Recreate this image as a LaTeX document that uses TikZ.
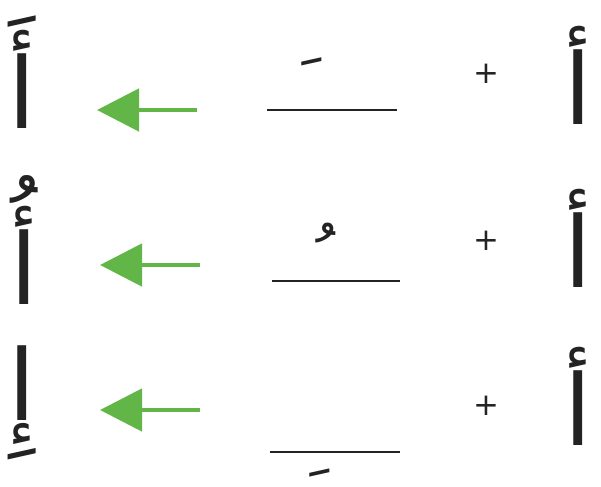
\documentclass[tikz,border=0pt]{standalone}
\usepackage{fontspec}
\usetikzlibrary{arrows.meta}
\TeXXeTstate=1
\newfontfamily\arabicfont[Script=Arabic]{DejaVu Sans}
\newfontfamily\plusfont{DejaVu Sans}
\definecolor{arrowgreen}{RGB}{98,182,72}
\definecolor{inkgray}{RGB}{35,35,35}

\begin{document}
\begin{tikzpicture}[x=0.025cm, y=-0.025cm,
    letter/.style={inner sep=0pt, text=inkgray, font=\arabicfont\fontsize{70}{70}\selectfont},
    haraka/.style={inner sep=0pt, text=inkgray, font=\arabicfont\fontsize{50}{50}\selectfont},
    plus/.style={inner sep=0pt, text=inkgray, font=\plusfont\fontsize{22}{22}\selectfont},
    blank/.style={line width=1.4pt, draw=inkgray},
    arrow/.style={-{Triangle[length=1.05cm, width=1.05cm]}, line width=0.12cm, color=arrowgreen}
]
\useasboundingbox (0,0) rectangle (601,487);
% row 1
\node[letter] (base1) at (578,75) {\beginR أ\endR};
\node[plus] (plus1) at (486,74) {+};
\coordinate (line1a) at (267,110);
\coordinate (line1b) at (397,110);
\node[haraka] (haraka1) at (312,83) {\beginR ﹶ\endR};
\coordinate (arr1s) at (197,110);
\coordinate (arr1e) at (97,110);
\node[letter] (res1) at (22,72) {\beginR أَ\endR};
% row 2
\node[letter] (base2) at (578,238) {\beginR أ\endR};
\node[plus] (plus2) at (486,241) {+};
\coordinate (line2a) at (272,281);
\coordinate (line2b) at (400,281);
\node[haraka] (haraka2) at (326,254) {\beginR ﹸ\endR};
\coordinate (arr2s) at (200,265);
\coordinate (arr2e) at (100,265);
\node[letter] (res2) at (24,240) {\beginR أُ\endR};
% row 3
\node[letter] (base3) at (578,396) {\beginR أ\endR};
\node[plus] (plus3) at (486,406) {+};
\coordinate (line3a) at (270,452);
\coordinate (line3b) at (400,452);
\node[haraka] (haraka3) at (320,472) {\beginR ﹺ\endR};
\coordinate (arr3s) at (200,410);
\coordinate (arr3e) at (100,410);
\node[letter] (res3) at (22,403) {\beginR إِ\endR};
% blanks and arrows
\draw[blank] (line1a) -- (line1b);
\draw[blank] (line2a) -- (line2b);
\draw[blank] (line3a) -- (line3b);
\draw[arrow] (arr1s) -- (arr1e);
\draw[arrow] (arr2s) -- (arr2e);
\draw[arrow] (arr3s) -- (arr3e);
\end{tikzpicture}
\end{document}
